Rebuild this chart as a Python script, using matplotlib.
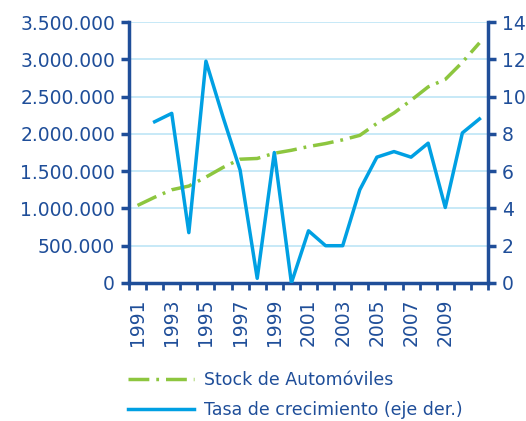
import matplotlib.pyplot as plt
import matplotlib.ticker as mticker
import numpy as np

# datos
years = list(range(1991, 2012))
stock = [1040000, 1150000, 1250000, 1300000, 1420000, 1550000, 1660000, 1670000,
         1740000, 1780000, 1830000, 1870000, 1920000, 1980000, 2140000, 2280000,
         2450000, 2630000, 2730000, 2960000, 3220000]
growth_years = list(range(1992, 2012))
growth = [8.65, 9.1, 2.7, 11.9, 8.9, 6.05, 0.25, 7.0, 0.0, 2.8, 2.0, 2.0,
          5.0, 6.75, 7.05, 6.75, 7.5, 4.05, 8.05, 8.8]

dark = '#1f4e99'
green = '#8dc63f'
blue = '#00a0e3'
grid_c = '#bde5f6'

plt.rcParams['font.family'] = 'DejaVu Sans'

fig = plt.figure(figsize=(5.26, 4.21), dpi=100)
ax = fig.add_axes([129 / 526, 1 - 283 / 421, (488 - 129) / 526, (283 - 22) / 421])
ax2 = ax.twinx()

x_stock = [y - 1991 for y in years]
x_growth = [y - 1991 for y in growth_years]

ax.plot(x_stock, stock, color=green, lw=2.5, dashes=(6, 2, 0.8, 2),
        label='Stock de Automóviles', zorder=3)
ax2.plot(x_growth, growth, color=blue, lw=2.5, label='Tasa de crecimiento (eje der.)',
         zorder=3)

ax.set_xlim(-0.5, 20.5)
ax.set_ylim(0, 3500000)
ax2.set_ylim(0, 14)

ax.set_yticks(np.arange(0, 3500001, 500000))
ax.yaxis.set_major_formatter(mticker.FuncFormatter(lambda v, p: f'{int(v):,}'.replace(',', '.')))
ax2.set_yticks(np.arange(0, 15, 2))

ax.set_xticks(range(0, 19, 2))
ax.set_xticklabels([str(y) for y in years[0:19:2]], rotation=90)
ax.set_xticks(np.arange(-0.5, 21, 1), minor=True)
ax.tick_params(axis='x', which='major', length=0, pad=11)
ax.tick_params(axis='x', which='minor', length=5, width=2, color=dark, direction='out')

ax.grid(axis='y', color=grid_c, lw=1.2)
ax.set_axisbelow(True)

for a in (ax, ax2):
    for s in a.spines.values():
        s.set_visible(False)
    a.tick_params(labelsize=13.5, labelcolor=dark)
ax.spines['left'].set_visible(True)
ax.spines['bottom'].set_visible(True)
ax2.spines['right'].set_visible(True)
for s in (ax.spines['left'], ax.spines['bottom'], ax2.spines['right']):
    s.set_color(dark)
    s.set_linewidth(2.5)
ax.tick_params(axis='y', length=6, width=2.5, color=dark, pad=4)
ax2.tick_params(axis='y', length=6, width=2.5, color=dark, pad=4)

h1, l1 = ax.get_legend_handles_labels()
h2, l2 = ax2.get_legend_handles_labels()
fig.legend(h1 + h2, l1 + l2, loc='upper left', bbox_to_anchor=(112 / 526, 1 - 355 / 421),
           frameon=False, fontsize=12.5, handlelength=3.8, labelcolor=dark,
           labelspacing=0.7, handletextpad=0.6)

fig.savefig('out.png', dpi=100)
